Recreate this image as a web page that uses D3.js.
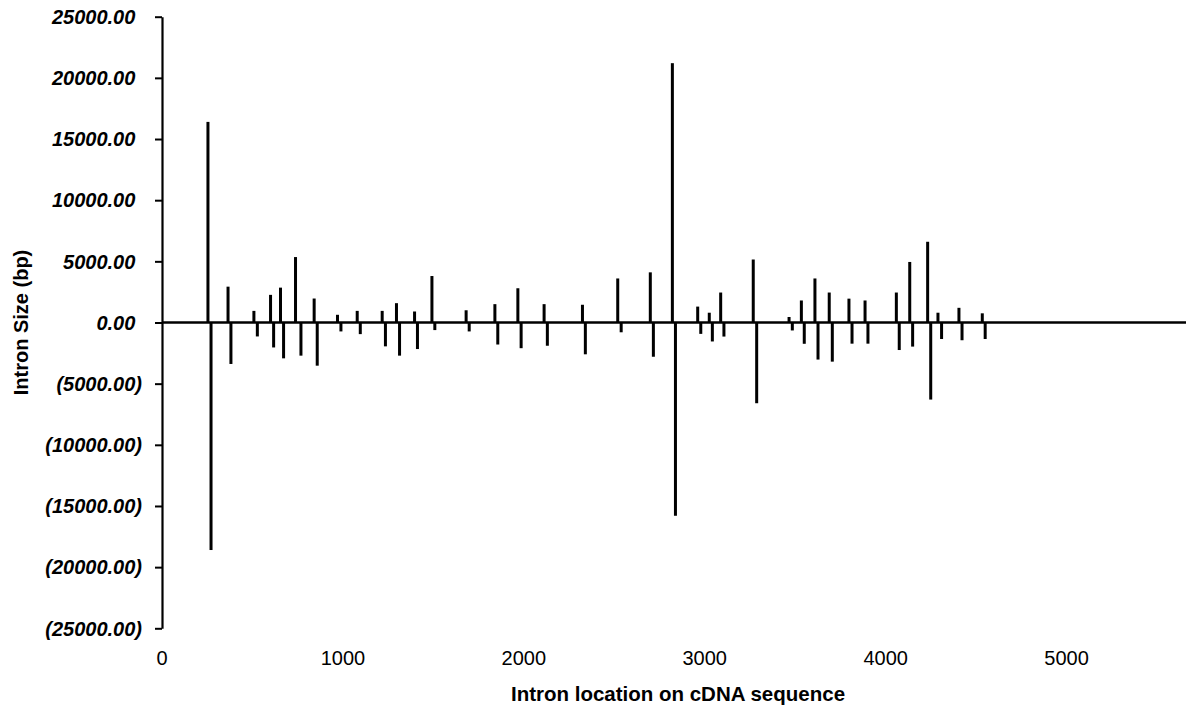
<!DOCTYPE html>
<html>
<head>
    <meta charset="utf-8">
    <script src="https://d3js.org/d3.v7.min.js"></script>
    <style>
        body { margin: 0; background: #fff; }
        text { font-family: "Liberation Sans", Arial, sans-serif; fill: #000; }
    </style>
</head>
<body>
    <svg id="chart" width="1186" height="706"></svg>

    <script>
        // intron positions (cDNA) and sizes
        const posLocation = [254, 365, 508, 600, 655, 738, 841, 970, 1079, 1217, 1296, 1396, 1492, 1681, 1840,
            1967, 2112, 2324, 2519, 2699, 2821, 2961, 3025, 3088, 3268, 3466, 3534, 3609, 3688, 3797,
            3886, 4059, 4133, 4232, 4289, 4405, 4534];
        const posSize = [16400, 2930, 950, 2260, 2850, 5350, 1960, 630, 950, 950, 1580, 900, 3800, 1000, 1500,
            2800, 1500, 1450, 3600, 4100, 21200, 1300, 800, 2450, 5150, 450, 1800, 3600, 2450, 1950,
            1800, 2450, 4950, 6600, 800, 1200, 750];

        const negLocation = [271, 381, 527, 617, 672, 768, 858, 989, 1096, 1235, 1313, 1412, 1508, 1698, 1856,
            1985, 2130, 2340, 2538, 2716, 2838, 2978, 3042, 3106, 3287, 3484, 3550, 3626, 3705, 3814,
            3902, 4075, 4149, 4249, 4309, 4422, 4550];
        const negSize = [-18600, -3390, -1140, -2040, -2930, -2710, -3530, -730, -950, -1950, -2710, -2170, -620, -730, -1800,
            -2100, -1900, -2600, -800, -2800, -15800, -930, -1550, -1150, -6600, -650, -1740, -3030, -3200, -1730,
            -1730, -2250, -1970, -6300, -1350, -1450, -1350];

        const yTicks = [25000, 20000, 15000, 10000, 5000, 0, -5000, -10000, -15000, -20000, -25000];
        const xTicks = [0, 1000, 2000, 3000, 4000, 5000];

        const svg = d3.select("#chart");

        const x = d3.scaleLinear().domain([0, 5660]).range([162, 1186]);
        const y = d3.scaleLinear().domain([-25000, 25000]).range([628.3, 16.7]);

        // number format like Excel "0.00_);(0.00)"
        const fmt = v => v < 0 ? "(" + d3.format(".2f")(-v) + ")" : d3.format(".2f")(v);

        // bars
        const bars = [];
        posLocation.forEach((d, i) => bars.push({ loc: d, size: posSize[i] }));
        negLocation.forEach((d, i) => bars.push({ loc: d, size: negSize[i] }));

        svg.append("g")
            .selectAll("rect")
            .data(bars)
            .join("rect")
            .attr("x", d => x(d.loc) - 1.5)
            .attr("width", 3)
            .attr("y", d => Math.min(y(0), y(d.size)))
            .attr("height", d => Math.abs(y(d.size) - y(0)))
            .attr("fill", "#000");

        // y axis
        const yAxis = svg.append("g")
            .attr("transform", "translate(162,0)")
            .call(d3.axisLeft(y).tickValues(yTicks).tickSize(7).tickSizeOuter(0).tickFormat(fmt));

        yAxis.select(".domain").attr("stroke", "#000").attr("stroke-width", 2.2);
        yAxis.selectAll(".tick line").attr("stroke", "#000").attr("stroke-width", 2);
        yAxis.selectAll(".tick text")
            .attr("x", d => d < 0 ? -20 : -26.7)
            .attr("dy", "0.34em")
            .style("font-size", "20px")
            .style("font-weight", "bold")
            .style("font-style", "italic")
            .attr("fill", "#000");

        // zero line
        svg.append("line")
            .attr("x1", x(0))
            .attr("x2", x(5660))
            .attr("y1", y(0))
            .attr("y2", y(0))
            .attr("stroke", "#000")
            .attr("stroke-width", 2.6);

        // x tick labels (no axis line at bottom)
        svg.append("g")
            .selectAll("text")
            .data(xTicks)
            .join("text")
            .attr("x", d => x(d))
            .attr("y", 665)
            .attr("text-anchor", "middle")
            .style("font-size", "20px")
            .text(d => d);

        // axis titles
        svg.append("text")
            .attr("x", 678)
            .attr("y", 701)
            .attr("text-anchor", "middle")
            .style("font-size", "20.5px")
            .style("font-weight", "bold")
            .text("Intron location on cDNA sequence");

        svg.append("text")
            .attr("transform", "translate(28," + y(0) + ") rotate(-90)")
            .attr("text-anchor", "middle")
            .style("font-size", "20px")
            .style("font-weight", "bold")
            .text("Intron Size (bp)");
    </script>
</body>
</html>
